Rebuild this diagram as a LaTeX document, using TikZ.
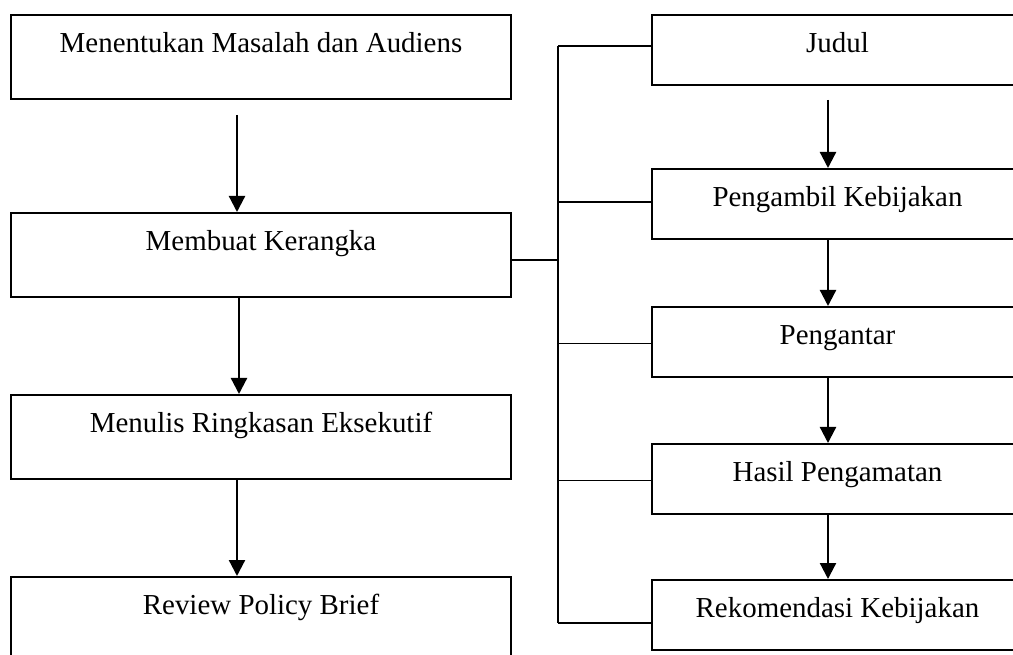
\documentclass[tikz,border=0pt]{standalone}
\usepackage{fontspec}
\setmainfont{Liberation Serif}
\usetikzlibrary{arrows.meta,calc}
\tikzset{
  lbox/.style={draw, line width=1.5pt, rectangle, inner sep=0pt, anchor=north,
    minimum width=375pt, text height=28pt, text depth=35pt,
    font=\fontsize{21.7}{26}\selectfont},
  rbox/.style={draw, line width=1.5pt, rectangle, inner sep=0pt, anchor=north,
    minimum width=278pt, text height=28pt, text depth=24.5pt,
    font=\fontsize{21.7}{26}\selectfont},
  arr/.style={line width=1.7pt, -{Triangle[width=12pt,length=12pt]}},
  brk/.style={line width=1.3pt},
}
\begin{document}
\begin{tikzpicture}[x=0.75pt,y=-0.75pt]
\useasboundingbox (0,0) rectangle (1013,655);
\clip (0,0) rectangle (1013,655);
% left column
\node[lbox] (b1) at (261,14) {Menentukan Masalah dan Audiens};
\node[lbox] (b2) at (261,212) {Membuat Kerangka};
\node[lbox] (b3) at (261,394) {Menulis Ringkasan Eksekutif};
\node[lbox] (b4) at (261,576) {Review Policy Brief};
% right column
\node[rbox] (r1) at (837.5,14) {Judul};
\node[rbox] (r2) at (837.5,168) {Pengambil Kebijakan};
\node[rbox] (r3) at (837.5,306) {Pengantar};
\node[rbox] (r4) at (837.5,443) {Hasil Pengamatan};
\node[rbox] (r5) at (837.5,579) {Rekomendasi Kebijakan};
% left arrows
\coordinate (s1) at (237,115);
\coordinate (c2) at (239,0);
\coordinate (c3) at (237,0);
\draw[arr] (s1) -- (s1 |- b2.north);
\draw[arr] (b2.south -| c2) -- (b3.north -| c2);
\draw[arr] (b3.south -| c3) -- (b4.north -| c3);
% right arrows
\coordinate (s2) at (828,100);
\coordinate (cr) at (828,0);
\draw[arr] (s2) -- (s2 |- r2.north);
\draw[arr] (r2.south -| cr) -- (r3.north -| cr);
\draw[arr] (r3.south -| cr) -- (r4.north -| cr);
\draw[arr] (r4.south -| cr) -- (r5.north -| cr);
% bracket
\coordinate (bx) at (558,0);
\coordinate (tK) at ($(b2.east)+(0,5)$);
\coordinate (t1) at ($(r1.west)+(0,-4)$);
\coordinate (t2) at ($(r2.west)+(0,-2)$);
\coordinate (t3) at ($(r3.west)+(0,1.5)$);
\coordinate (t4) at ($(r4.west)+(0,1.5)$);
\coordinate (t5) at ($(r5.west)+(0,8)$);
\draw[brk] (tK) -- (tK -| bx);
\draw[brk] (t1 -| bx) -- (t5 -| bx);
\draw[brk] (t1 -| bx) -- (t1);
\draw[brk] (t2 -| bx) -- (t2);
\draw[brk] (t3 -| bx) -- (t3);
\draw[brk] (t4 -| bx) -- (t4);
\draw[brk] (t5 -| bx) -- (t5);
\end{tikzpicture}
\end{document}
